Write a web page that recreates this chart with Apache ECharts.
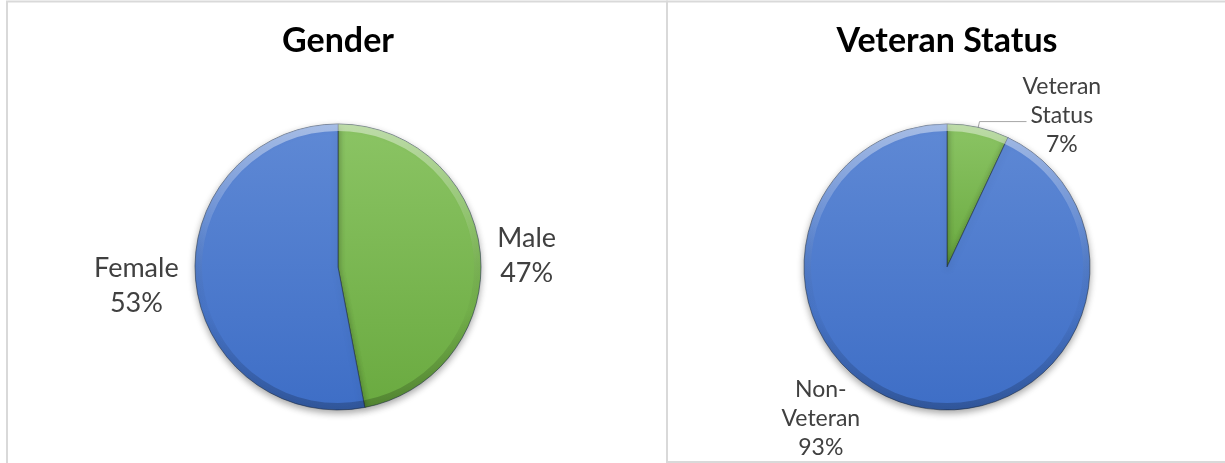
<!DOCTYPE html>
<html><head><meta charset="utf-8">
<script src="https://cdn.jsdelivr.net/npm/echarts@6/dist/echarts.min.js"></script>
<style>html,body{margin:0;padding:0;background:#fff}#c{width:1225px;height:463px}</style>
</head><body><div id="c"></div>
<script>
const chartTitles = ['Gender', 'Veteran Status'];
const genderCategories = ['Male', 'Female'];
const genderValues = [47, 53];
const veteranCategories = ['Veteran Status', 'Non-Veteran'];
const veteranValues = [7, 93];

const blueFill = { type: 'linear', x: 0, y: 0, x2: 0, y2: 1, colorStops: [{ offset: 0, color: '#5f89d5' }, { offset: 1, color: '#3e6ec6' }] };
const greenFill = { type: 'linear', x: 0, y: 0, x2: 0, y2: 1, colorStops: [{ offset: 0, color: '#8bc464' }, { offset: 1, color: '#6aaa40' }] };
const rimFill = { type: 'linear', global: true, x: 0, y: 124, x2: 0, y2: 410, colorStops: [
  { offset: 0, color: 'rgba(255,255,255,0.45)' }, { offset: 0.35, color: 'rgba(255,255,255,0.12)' },
  { offset: 0.65, color: 'rgba(0,0,0,0.02)' }, { offset: 1, color: 'rgba(0,0,0,0.22)' }] };
const baseItem = { borderColor: 'rgba(30,45,70,0.55)', borderWidth: 1, shadowBlur: 7, shadowOffsetY: 3, shadowColor: 'rgba(0,0,0,0.35)' };

function wrapName(name) {
  return name.indexOf('-') >= 0 ? name.replace('-', '-\n') : name.replace(' ', '\n');
}
function labelFmt(wrap) {
  return function (p) {
    const lines = (wrap ? wrapName(p.name) : p.name).split('\n');
    lines.push(Math.round(p.percent) + '%');
    return lines.map(l => '{a|' + l + '}').join('\n');
  };
}
function rimSeries(center, cats, vals) {
  return {
    type: 'pie', center: center, radius: [136, 143], startAngle: 90, clockwise: true,
    silent: true, emphasis: { disabled: true }, label: { show: false }, labelLine: { show: false }, z: 3,
    data: cats.map((n, i) => ({ name: n, value: vals[i], itemStyle: { color: rimFill, borderWidth: 0 } }))
  };
}

const chart = echarts.init(document.getElementById('c'), null, { renderer: 'canvas' });
chart.setOption({
  animation: false,
  backgroundColor: '#ffffff',
  graphic: [
    { type: 'rect', shape: { x: 7, y: 1.5, width: 660, height: 480 }, style: { fill: 'none', stroke: '#d9d9d9', lineWidth: 2 }, silent: true, z: -1 },
    { type: 'rect', shape: { x: 667, y: 1.5, width: 600, height: 460.5 }, style: { fill: 'none', stroke: '#d9d9d9', lineWidth: 2 }, silent: true, z: -1 },
    { type: 'text', x: 338, y: 41, style: { text: chartTitles[0], fontFamily: 'Lato', fontWeight: 'bold', fontSize: 34, fill: '#000', align: 'center', verticalAlign: 'middle' } },
    { type: 'text', x: 947, y: 41, style: { text: chartTitles[1], fontFamily: 'Lato', fontWeight: 'bold', fontSize: 34, fill: '#000', align: 'center', verticalAlign: 'middle' } }
  ],
  series: [
    {
      type: 'pie', center: [338, 267], radius: 143, startAngle: 90, clockwise: true,
      avoidLabelOverlap: false, emphasis: { disabled: true }, silent: true,
      data: genderCategories.map((n, i) => ({
        name: n, value: genderValues[i],
        itemStyle: Object.assign({ color: i === 0 ? greenFill : blueFill }, baseItem),
        label: { padding: i === 0 ? [6, 0, 0, 0] : [10, 0, 0, 0] }
      })),
      label: {
        show: true, position: 'outside', alignTo: 'none', distanceToLabelLine: 5,
        fontFamily: 'Lato', fontSize: 27, lineHeight: 35, color: '#404040',
        formatter: labelFmt(false),
        rich: { a: { fontFamily: 'Lato', fontSize: 27, lineHeight: 35, color: '#404040', align: 'center' } }
      },
      labelLine: { show: false, length: 6, length2: 6 }
    },
    rimSeries([338, 267], genderCategories, genderValues),
    {
      type: 'pie', center: [947, 267], radius: 143, startAngle: 90, clockwise: true,
      avoidLabelOverlap: false, emphasis: { disabled: true }, silent: true,
      data: veteranCategories.map((n, i) => ({
        name: n, value: veteranValues[i],
        itemStyle: Object.assign({ color: i === 0 ? greenFill : blueFill }, baseItem),
        label: i === 0 ? { distanceToLabelLine: -4, padding: [0, 0, 12, 0] } : {},
        labelLine: i === 0 ? { show: true, length: 6, length2: 47, lineStyle: { color: '#a6a6a6', width: 1 } } : { show: false, length: 12, length2: 48 }
      })),
      label: {
        show: true, position: 'outside', alignTo: 'none', distanceToLabelLine: 5,
        fontFamily: 'Lato', fontSize: 23, lineHeight: 29, color: '#404040',
        formatter: labelFmt(true),
        rich: { a: { fontFamily: 'Lato', fontSize: 23, lineHeight: 29, color: '#404040', align: 'center' } }
      },
      labelLine: { show: true }
    },
    rimSeries([947, 267], veteranCategories, veteranValues)
  ]
});
</script>
</body></html>
